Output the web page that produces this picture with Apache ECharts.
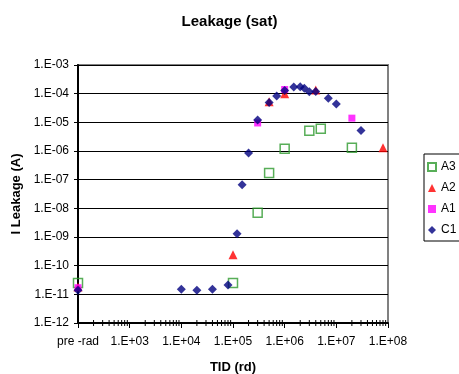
<!DOCTYPE html>
<html>
<head>
<meta charset="utf-8">
<script src="https://cdn.jsdelivr.net/npm/echarts@6/dist/echarts.min.js"></script>
<style>
html,body{margin:0;padding:0;background:#fff}
#main{width:459px;height:374px}
</style>
</head>
<body>
<div id="main"></div>
<script>
// pre-rad is drawn at x = 100 (left end of the TID axis)
var PRE_RAD = 100

var a3X = [PRE_RAD, 1e5, 3e5, 5e5, 1e6, 3e6, 5e6, 2e7]
var a3Y = [2.5e-11, 2.5e-11, 7e-9, 1.7e-7, 1.2e-6, 5.1e-6, 6e-6, 1.3e-6]

var a2X = [PRE_RAD, 1e5, 5e5, 1e6, 4e6, 8e7]
var a2Y = [1.8e-11, 2.4e-10, 5.2e-5, 1.0e-4, 1.35e-4, 1.3e-6]

var a1X = [PRE_RAD, 3e5, 1e6, 2e7]
var a1Y = [1.7e-11, 9.5e-6, 1.4e-4, 1.4e-5]

var c1X = [PRE_RAD, 1e4, 2e4, 4e4, 8e4, 1.2e5, 1.5e5, 2e5, 3e5, 5e5, 7e5, 1e6, 1.5e6, 2e6, 2.4e6, 3e6, 4e6, 7e6, 1e7, 3e7]
var c1Y = [1.4e-11, 1.5e-11, 1.4e-11, 1.5e-11, 2.1e-11, 1.3e-9, 6.6e-8, 8.5e-7, 1.2e-5, 4.9e-5, 8.3e-5, 1.3e-4, 1.7e-4, 1.75e-4, 1.55e-4, 1.17e-4, 1.2e-4, 6.9e-5, 4.4e-5, 5.2e-6]

var xMin = 1e2, xMax = 1e8
var yMin = 1e-12, yMax = 1e-3
var minorSteps = [2, 3, 4, 5, 6, 7, 8, 9]

var font = 'Liberation Sans, Arial, sans-serif'

function pairs(xs, ys){
	var out = []
	for (var i = 0; i < xs.length; i++) out.push([xs[i], ys[i]])
	return out
}

function expLabel(v){
	var e = Math.round(Math.log10(v))
	var s = String(Math.abs(e))
	if (s.length < 2) s = '0' + s
	return '1.E' + (e < 0 ? '-' : '+') + s
}

// minor tick positions on the TID axis
var minorTicks = []
for (var d = 2; d < 8; d++) {
	minorSteps.forEach(function(k){ minorTicks.push([k * Math.pow(10, d)]) })
}

var chartDom = document.getElementById('main')
var myChart = echarts.init(chartDom)
var option = {
	animation: false,
	title: {
		text: 'Leakage (sat)',
		left: 'center',
		top: 9,
		textStyle: {fontFamily: font, fontSize: 15, fontWeight: 'bold', color: '#000'}
	},
	legend: {
		orient: 'vertical',
		left: 424,
		top: 154,
		borderColor: '#000',
		borderWidth: 1,
		padding: [6, 40, 4, 3],
		itemGap: 7,
		itemWidth: 8,
		itemHeight: 8,
		textStyle: {fontFamily: font, fontSize: 12, color: '#000', lineHeight: 14},
		data: ['A3', 'A2', 'A1', 'C1']
	},
	grid: {
		left: 78, right: 71, top: 65, bottom: 51,
		outerBoundsMode: 'none',
		containLabel: false,
		show: true,
		borderColor: '#808080',
		borderWidth: 2
	},
	xAxis: {
		type: 'log',
		logBase: 10,
		min: xMin,
		max: xMax,
		name: 'TID (rd)',
		nameLocation: 'middle',
		nameGap: 38,
		nameTextStyle: {fontFamily: font, fontSize: 13, fontWeight: 'bold', color: '#000'},
		axisLine: {lineStyle: {color: '#000', width: 2}},
		axisTick: {length: 5, lineStyle: {color: '#000'}},
		axisLabel: {
			margin: 13,
			fontFamily: font, fontSize: 12, color: '#000',
			formatter: function(v){
				if (Math.abs(v - PRE_RAD) < 1e-6) return 'pre -rad'
				return expLabel(v)
			}
		},
		splitLine: {show: false}
	},
	yAxis: {
		type: 'log',
		logBase: 10,
		min: yMin,
		max: yMax,
		name: 'I Leakage (A)',
		nameLocation: 'middle',
		nameGap: 54,
		nameTextStyle: {fontFamily: font, fontSize: 13, fontWeight: 'bold', color: '#000'},
		axisLine: {lineStyle: {color: '#000', width: 2}},
		axisTick: {length: 4, lineStyle: {color: '#000'}},
		axisLabel: {margin: 9, fontFamily: font, fontSize: 12, color: '#000', formatter: expLabel},
		splitLine: {lineStyle: {color: '#000', width: 1}}
	},
	series: [
		{
			type: 'custom',
			silent: true,
			legendHoverLink: false,
			clip: false,
			data: minorTicks,
			encode: {x: 0},
			renderItem: function(params, api){
				var p = api.coord([api.value(0), yMin])
				return {
					type: 'line',
					shape: {x1: p[0], y1: p[1] - 3, x2: p[0], y2: p[1] + 3},
					style: {stroke: '#000', lineWidth: 1}
				}
			}
		},
		{
			name: 'A3', type: 'scatter', symbol: 'rect', symbolSize: 9,
			itemStyle: {color: 'rgba(255,255,255,0)', borderColor: '#2e9a2e', borderWidth: 1.5},
			data: pairs(a3X, a3Y)
		},
		{
			name: 'A2', type: 'scatter', symbol: 'triangle', symbolSize: 9,
			itemStyle: {color: '#ff0000'},
			data: pairs(a2X, a2Y)
		},
		{
			name: 'A1', type: 'scatter', symbol: 'rect', symbolSize: 7,
			itemStyle: {color: '#ff00ff'},
			data: pairs(a1X, a1Y)
		},
		{
			name: 'C1', type: 'scatter', symbol: 'diamond', symbolSize: 9,
			itemStyle: {color: '#000080'},
			data: pairs(c1X, c1Y)
		}
	]
}
myChart.setOption(option)
</script>
</body>
</html>
